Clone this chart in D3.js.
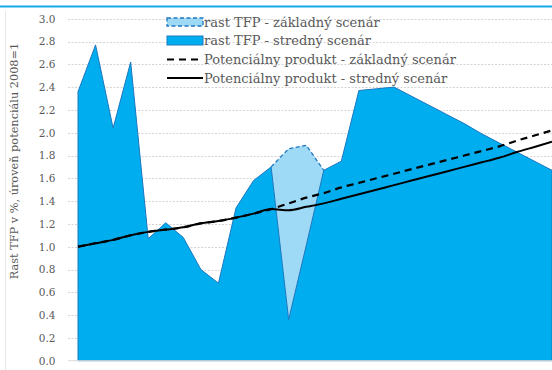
<!DOCTYPE html>
<html>
<head>
<meta charset="utf-8">
<script src="https://cdn.jsdelivr.net/npm/d3@7"></script>
<style>
  html, body { margin: 0; padding: 0; background: #fff; }
  svg { display: block; }
</style>
</head>
<body>
<svg id="chart" width="552" height="370"></svg>
<script>
// Years on the horizontal axis (not labelled in the chart)
const years = d3.range(2008, 2036);

// TFP growth, % – middle scenario
const tfpStredny = [2.36, 2.77, 2.04, 2.62, 1.07, 1.21, 1.08, 0.80, 0.68, 1.34,
                    1.58, 1.70, 0.36, 1.01, 1.67, 1.75, 2.37, 2.385, 2.40, 2.32,
                    2.24, 2.16, 2.08, 1.99, 1.91, 1.83, 1.75, 1.67];

// TFP growth, % – baseline scenario
const tfpZakladny = [2.36, 2.77, 2.04, 2.62, 1.07, 1.21, 1.08, 0.80, 0.68, 1.34,
                     1.58, 1.70, 1.86, 1.89, 1.67, 1.75, 2.37, 2.385, 2.40, 2.32,
                     2.24, 2.16, 2.08, 1.99, 1.91, 1.83, 1.75, 1.67];

// Potential output level, 2008 = 1 – baseline scenario
const potZakladny = [1.00, 1.03, 1.06, 1.10, 1.13, 1.15, 1.17, 1.205, 1.225, 1.255,
                     1.29, 1.33, 1.38, 1.43, 1.47, 1.52, 1.56, 1.60, 1.64, 1.68,
                     1.72, 1.76, 1.80, 1.84, 1.88, 1.93, 1.975, 2.02];

// Potential output level, 2008 = 1 – middle scenario
const potStredny = [1.00, 1.03, 1.06, 1.10, 1.13, 1.15, 1.17, 1.205, 1.225, 1.255,
                    1.29, 1.33, 1.32, 1.35, 1.38, 1.42, 1.46, 1.50, 1.54, 1.58,
                    1.62, 1.66, 1.70, 1.74, 1.78, 1.83, 1.875, 1.92];

const yTicks = [0, 0.2, 0.4, 0.6, 0.8, 1.0, 1.2, 1.4, 1.6, 1.8, 2.0, 2.2, 2.4, 2.6, 2.8, 3.0];

const legendLabels = [
  "rast TFP - základný scenár",
  "rast TFP - stredný scenár",
  "Potenciálny produkt - základný scenár",
  "Potenciálny produkt - stredný scenár"
];

const svg = d3.select("#chart");
const serif = "'DejaVu Serif', 'Liberation Serif', serif";
const textGray = "#595959";

const x = d3.scalePoint().domain(years).range([78, 552]);
const y = d3.scaleLinear().domain([0, 3]).range([360.7, 18.7]);
const gridLeft = 68, gridRight = 552;

// top rule and left frame line
svg.append("line").attr("x1", 0).attr("x2", 552).attr("y1", 6.5).attr("y2", 6.5)
  .attr("stroke", "#13ace6").attr("stroke-width", 2.2);
svg.append("line").attr("x1", 5.5).attr("x2", 5.5).attr("y1", 11).attr("y2", 370)
  .attr("stroke", "#e6e6e6").attr("stroke-width", 1);

// dotted horizontal gridlines
svg.append("g").selectAll("line").data(yTicks.filter(d => d > 0)).join("line")
  .attr("x1", gridLeft).attr("x2", gridRight)
  .attr("y1", d => Math.round(y(d)) + 0.5).attr("y2", d => Math.round(y(d)) + 0.5)
  .attr("stroke", "#d4d4d4").attr("stroke-width", 1).attr("stroke-dasharray", "2,1.5");

// y axis labels
const yAxis = d3.axisLeft(y).tickValues(yTicks).tickFormat(d3.format(".1f")).tickSize(0).tickPadding(0);
const gy = svg.append("g").attr("transform", "translate(55.5,0)").call(yAxis);
gy.select(".domain").remove();
gy.selectAll("text").attr("font-family", serif).attr("font-size", 10.5).attr("fill", textGray);

// y axis title
svg.append("text")
  .attr("transform", `translate(18,161) rotate(-90)`)
  .attr("text-anchor", "middle")
  .attr("font-family", serif).attr("font-size", 11.3).attr("fill", textGray)
  .text("Rast TFP v %, úroveň potenciálu 2008=1");

const idx = d3.range(years.length);

// baseline scenario TFP area (light), shows where it exceeds the middle scenario
const areaZ = d3.area().x(i => x(years[i])).y0(y(0)).y1(i => y(tfpZakladny[i]));
svg.append("path").attr("d", areaZ(idx)).attr("fill", "#9ed9f5");

// middle scenario TFP area
const areaS = d3.area().x(i => x(years[i])).y0(y(0)).y1(i => y(tfpStredny[i]));
svg.append("path").attr("d", areaS(idx)).attr("fill", "#00aeef")
  .attr("stroke", "#1f78c1").attr("stroke-width", 1).attr("stroke-linejoin", "round");

// dashed outline of the baseline scenario where it differs
const differs = i => [i - 1, i, i + 1].some(j => j >= 0 && j < years.length && tfpZakladny[j] !== tfpStredny[j]);
const lineZ = d3.line().defined(differs).x(i => x(years[i])).y(i => y(tfpZakladny[i]));
svg.append("path").attr("d", lineZ(idx)).attr("fill", "none")
  .attr("stroke", "#1f78c1").attr("stroke-width", 1.3).attr("stroke-dasharray", "4,2.5");

// baseline at zero
svg.append("line").attr("x1", gridLeft).attr("x2", gridRight)
  .attr("y1", y(0)).attr("y2", y(0)).attr("stroke", "#d9d9d9").attr("stroke-width", 1);

// potential output lines
const potLine = arr => d3.line().curve(d3.curveMonotoneX).x(i => x(years[i])).y(i => y(arr[i]))(idx);
svg.append("path").attr("d", potLine(potZakladny)).attr("fill", "none")
  .attr("stroke", "#000").attr("stroke-width", 2.2).attr("stroke-dasharray", "7,5");
svg.append("path").attr("d", potLine(potStredny)).attr("fill", "none")
  .attr("stroke", "#000").attr("stroke-width", 2);

// legend
const lg = svg.append("g");
const rowY = [22, 40.5, 59.5, 78];
const symX0 = 167, symX1 = 203;
lg.append("rect").attr("x", symX0).attr("y", rowY[0] - 4).attr("width", symX1 - symX0).attr("height", 8)
  .attr("fill", "#9ed9f5").attr("stroke", "#1f78c1").attr("stroke-width", 1.3).attr("stroke-dasharray", "4,2.5");
lg.append("rect").attr("x", symX0).attr("y", rowY[1] - 4.5).attr("width", symX1 - symX0).attr("height", 9)
  .attr("fill", "#00aeef").attr("stroke", "#1f78c1").attr("stroke-width", 1);
lg.append("line").attr("x1", symX0).attr("x2", symX1).attr("y1", rowY[2]).attr("y2", rowY[2])
  .attr("stroke", "#000").attr("stroke-width", 2.2).attr("stroke-dasharray", "7,5");
lg.append("line").attr("x1", symX0).attr("x2", symX1).attr("y1", rowY[3]).attr("y2", rowY[3])
  .attr("stroke", "#000").attr("stroke-width", 2);
lg.selectAll("text").data(legendLabels).join("text")
  .attr("x", 204).attr("y", (d, i) => rowY[i]).attr("dy", "0.35em")
  .attr("font-family", serif).attr("font-size", 13).attr("fill", textGray)
  .text(d => d);
</script>
</body>
</html>
